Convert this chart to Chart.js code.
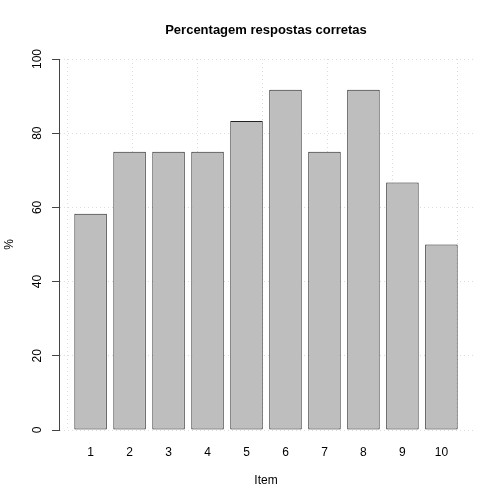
<!DOCTYPE html>
<html>
<head>
<meta charset="utf-8">
<script src="https://cdn.jsdelivr.net/npm/chart.js@4/dist/chart.umd.min.js"></script>
<style>
  body { margin: 0; background: #fff; }
</style>
</head>
<body>
<canvas id="myChart" width="504" height="504"></canvas>
<script>
const itens = ['1', '2', '3', '4', '5', '6', '7', '8', '9', '10']
const percentagens = [58.3, 75, 75, 75, 83.3, 91.7, 75, 91.7, 66.7, 50]
const yTicks = [0, 20, 40, 60, 80, 100]
const xGrid = [0, 2, 4, 6, 8, 10, 12]

const fonte = '"Liberation Sans", Arial, sans-serif'

// barplot layout: width 1, space 0.2
const centro = i => 0.7 + 1.2 * i

// titles drawn the way R places them
const textos = {
  id: 'textos',
  afterDraw(chart) {
    const c = chart.ctx
    const a = chart.chartArea
    const meio = (a.left + a.right) / 2
    c.save()
    c.fillStyle = '#000'
    c.textAlign = 'center'
    c.textBaseline = 'middle'
    c.font = 'bold 13px ' + fonte
    c.fillText('Percentagem respostas corretas', meio, 30)
    c.font = '12px ' + fonte
    c.fillText('Item', meio, 481)
    c.translate(10, (a.top + a.bottom) / 2)
    c.rotate(-Math.PI / 2)
    c.fillText('%', 0, 0)
    c.restore()
  }
}

const ctx = document.getElementById('myChart')

const myChart = new Chart(ctx, {
  type: 'bar',
  data: {
    datasets: [
      {
        xAxisID: 'x',
        data: percentagens.map((v, i) => ({ x: centro(i), y: v })),
        backgroundColor: '#bebebe',
        borderColor: '#222222',
        borderWidth: 1,
        borderSkipped: false,
        categoryPercentage: 1,
        barPercentage: 1 / 1.2
      }
    ]
  },
  options: {
    responsive: false,
    animation: false,
    layout: { padding: { top: 59, right: 31, left: 0, bottom: 0 } },
    plugins: {
      legend: { display: false },
      tooltip: { enabled: false },
      title: { display: false }
    },
    scales: {
      x: {
        type: 'linear',
        min: -0.272,
        max: 12.472,
        offset: false,
        afterBuildTicks: s => { s.ticks = xGrid.map(v => ({ value: v })) },
        afterFit: s => { s.height = 0 },
        ticks: { display: false },
        grid: { color: '#dcdcdc', lineWidth: 1, drawTicks: false, offset: false },
        border: { display: false, dash: [1, 3] }
      },
      xl: {
        type: 'linear',
        position: 'bottom',
        min: -0.272,
        max: 12.472,
        offset: false,
        afterBuildTicks: s => { s.ticks = itens.map((t, i) => ({ value: centro(i) })) },
        afterFit: s => { s.height = 74 },
        ticks: {
          padding: 15,
          color: '#000',
          font: { size: 12, family: fonte },
          maxRotation: 0,
          autoSkip: false,
          callback: (v, i) => itens[i]
        },
        grid: { display: false, drawTicks: false, offset: false },
        border: { display: false }
      },
      y: {
        min: 0,
        max: 100,
        afterBuildTicks: s => { s.ticks = yTicks.map(v => ({ value: v })) },
        afterFit: s => { s.width = 59 },
        ticks: {
          color: '#000',
          font: { size: 12, family: fonte },
          minRotation: 90,
          maxRotation: 90,
          crossAlign: 'center',
          padding: 4
        },
        grid: {
          color: '#dcdcdc',
          lineWidth: 1,
          tickLength: 7,
          tickColor: '#444',
          tickBorderDash: []
        },
        border: { display: true, color: '#444', width: 1, dash: [1, 3] }
      }
    }
  },
  plugins: [textos]
})
</script>
</body>
</html>
